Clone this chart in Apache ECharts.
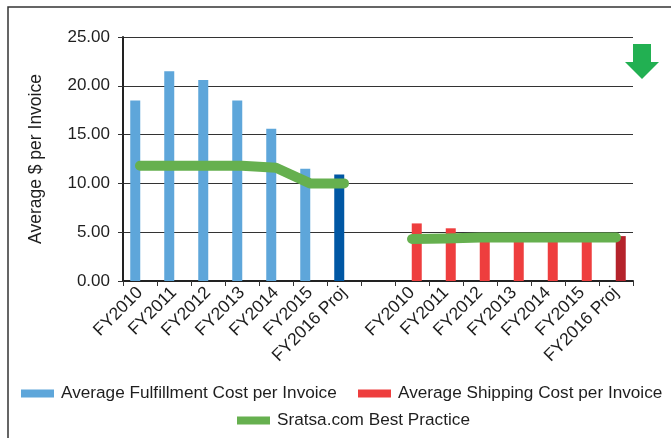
<!DOCTYPE html>
<html>
<head>
<meta charset="utf-8">
<script src="https://cdn.jsdelivr.net/npm/echarts@6/dist/echarts.min.js"></script>
<style>html,body{margin:0;padding:0;background:#fff}#c{width:671px;height:438px}</style>
</head>
<body>
<div id="c"></div>
<script>
var categories = ['FY2010','FY2011','FY2012','FY2013','FY2014','FY2015','FY2016 Proj','',
                  'FY2010','FY2011','FY2012','FY2013','FY2014','FY2015','FY2016 Proj'];
var fulfillment = [18.5, 21.5, 20.6, 18.5, 15.6, 11.5, 10.9, null, null, null, null, null, null, null, null];
var shipping = [null, null, null, null, null, null, null, null, 5.9, 5.4, 4.6, 4.6, 4.6, 4.6, 4.6];
var bestPractice = [11.8, 11.8, 11.8, 11.8, 11.6, 10.0, 10.0, null, 4.3, 4.35, 4.45, 4.45, 4.45, 4.45, 4.45];
var yTicks = [0, 5, 10, 15, 20, 25];

var FONT = 'Liberation Sans, Arial, sans-serif';
var chart = echarts.init(document.getElementById('c'));

var fData = fulfillment.map(function (v, i) {
  return i === 6 ? { value: v, itemStyle: { color: '#0057a4' } } : v;
});
var sData = shipping.map(function (v, i) {
  return i === 14 ? { value: v, itemStyle: { color: '#b5232b' } } : v;
});

function legendAt(left, top, name, color) {
  var item = { name: name, icon: 'rect' };
  if (color) item.itemStyle = { color: color };
  return { left: left, top: top, itemWidth: 33, itemHeight: 8, padding: 0,
    textStyle: { fontSize: 17.2, color: '#1e1e1e', fontFamily: FONT, padding: [0, 0, 0, 2] },
    data: [item] };
}

chart.setOption({
  animation: false,
  textStyle: { fontFamily: FONT },
  grid: { left: 123, right: 38, top: 37, bottom: 157, containLabel: false },
  graphic: [
    { type: 'rect', shape: { x: 8, y: 7, width: 700, height: 460 },
      style: { fill: 'none', stroke: '#333', lineWidth: 1.5 }, silent: true, z: -1 },
    { type: 'polygon', shape: { points: [[633,44],[651,44],[651,62],[659,62],[642,79],[625,62],[633,62]] },
      style: { fill: '#22b052' }, silent: true }
  ],
  legend: [
    legendAt(21, 385, 'Average Fulfillment Cost per Invoice'),
    legendAt(358, 385, 'Average Shipping Cost per Invoice'),
    legendAt(237, 412, 'Sratsa.com Best Practice', '#66b04f')
  ],
  xAxis: {
    type: 'category',
    data: categories,
    boundaryGap: true,
    axisLine: { lineStyle: { color: '#222', width: 2 } },
    axisTick: { show: true, length: 5, lineStyle: { color: '#333' }, interval: 0 },
    axisLabel: { interval: 0, rotate: 45, fontSize: 17.5, color: '#1e1e1e', margin: 9, fontFamily: FONT },
    splitLine: { show: false }
  },
  yAxis: {
    type: 'value',
    min: yTicks[0], max: yTicks[yTicks.length - 1], interval: 5,
    name: 'Average $ per Invoice',
    nameLocation: 'middle', nameRotate: 90, nameGap: 78,
    nameTextStyle: { fontSize: 17.5, color: '#1e1e1e', fontFamily: FONT },
    axisLine: { show: true, lineStyle: { color: '#222', width: 2 } },
    axisTick: { show: true, length: 5, lineStyle: { color: '#333' } },
    axisLabel: { fontSize: 17, color: '#1e1e1e', margin: 13, fontFamily: FONT,
      formatter: function (v) { return v.toFixed(2); } },
    splitLine: { show: true, lineStyle: { color: '#333', width: 1 } }
  },
  series: [
    { name: 'Average Fulfillment Cost per Invoice', type: 'bar', data: fData,
      barWidth: 10, barGap: '-5%', itemStyle: { color: '#5ea6da' } },
    { name: 'Average Shipping Cost per Invoice', type: 'bar', data: sData,
      barWidth: 10, barGap: '-5%', itemStyle: { color: '#ee3e3e' } },
    { name: 'Sratsa.com Best Practice', type: 'line', data: bestPractice,
      connectNulls: false, symbol: 'none', z: 5,
      lineStyle: { color: '#66b04f', width: 10, cap: 'round', join: 'round' },
      itemStyle: { color: '#66b04f' } }
  ]
});
</script>
</body>
</html>
